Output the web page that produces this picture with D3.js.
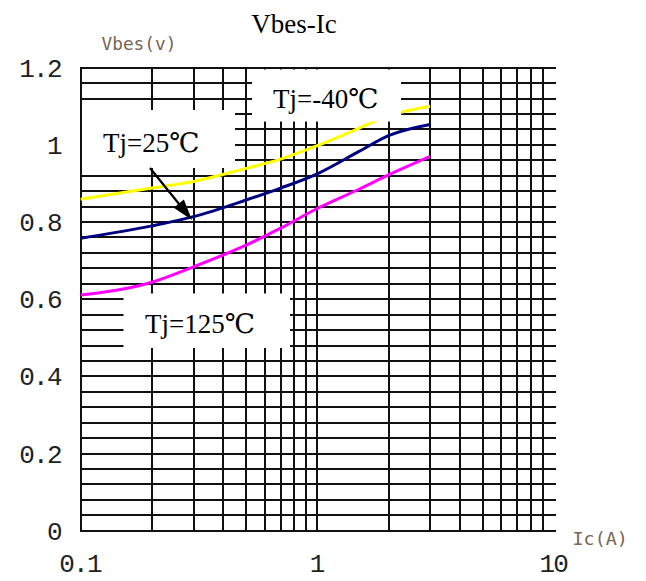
<!DOCTYPE html>
<html>
<head>
<meta charset="utf-8">
<script src="https://cdn.jsdelivr.net/npm/d3@7"></script>
<style>
  html, body { margin: 0; padding: 0; background: #fff; }
  svg { display: block; }
</style>
</head>
<body>
<script>
// ---- data ----
const title = "Vbes-Ic";
const yAxisLabel = "Vbes(v)";
const xAxisLabel = "Ic(A)";
const icValues = [0.1, 0.2, 0.3, 0.5, 0.7, 1, 1.5, 2, 3];
const seriesNames = ["Tj=-40℃", "Tj=25℃", "Tj=125℃"];
const seriesColors = ["#ffff00", "#000080", "#ff00ff"];
const vbesMinus40 = [0.859, 0.888, 0.905, 0.939, 0.963, 0.998, 1.043, 1.075, 1.100];
const vbes25 = [0.758, 0.790, 0.814, 0.857, 0.888, 0.925, 0.983, 1.024, 1.053];
const vbes125 = [0.611, 0.644, 0.684, 0.740, 0.784, 0.835, 0.885, 0.922, 0.970];
const yTickValues = [0, 0.2, 0.4, 0.6, 0.8, 1.0, 1.2];
const yTickLabels = ["0", "0.2", "0.4", "0.6", "0.8", "1", "1.2"];
const xTickValues = [0.1, 1, 10];
const xTickLabels = ["0.1", "1", "10"];
const xGridValues = [0.1,0.2,0.3,0.4,0.5,0.6,0.7,0.8,0.9,1,2,3,4,5,6,7,8,9];
const yGridStep = 0.04;

// ---- layout ----
const W = 646, H = 581;
const mLeft = 80.7, mRight = 553.9, mTop = 67.7, mBottom = 530.7;

const svg = d3.select("body").append("svg").attr("width", W).attr("height", H);
svg.append("rect").attr("width", W).attr("height", H).attr("fill", "#fff");

const x = d3.scaleLog().domain([0.1, 10]).range([mLeft, mRight]);
const y = d3.scaleLinear().domain([0, 1.2]).range([mBottom, mTop]);

const yGridValues = d3.range(0, Math.round(1.2 / yGridStep) + 1).map(i => +(i * yGridStep).toFixed(2));

// grid
const grid = svg.append("g").attr("stroke", "#111").attr("stroke-width", 2).attr("shape-rendering", "crispEdges");
grid.selectAll("line.h").data(yGridValues).join("line")
  .attr("class", "h")
  .attr("x1", mLeft - 1).attr("x2", mRight + 2)
  .attr("y1", d => Math.round(y(d))).attr("y2", d => Math.round(y(d)));
grid.selectAll("line.v").data(xGridValues).join("line")
  .attr("class", "v")
  .attr("x1", d => Math.round(x(d))).attr("x2", d => Math.round(x(d)))
  .attr("y1", Math.round(mTop) - 1).attr("y2", Math.round(mBottom) + 1);

// curves
const series = [vbesMinus40, vbes25, vbes125];
const line = d3.line().x(d => x(d[0])).y(d => y(d[1])).curve(d3.curveMonotoneX);
svg.append("g").selectAll("path").data(series).join("path")
  .attr("d", s => line(icValues.map((v, i) => [v, s[i]])))
  .attr("fill", "none")
  .attr("stroke", (s, i) => seriesColors[i])
  .attr("stroke-width", 3);

// annotation boxes
const serif = "'Liberation Serif', 'DejaVu Serif', 'Times New Roman', serif";
const boxes = [
  { x0: 252, y0: 69.5, x1: 401, y1: 121.5, tx: 273, ty: 108, text: seriesNames[0] },
  { x0: 82, y0: 110, x1: 235, y1: 168, tx: 103, ty: 152, text: seriesNames[1] },
  { x0: 123.5, y0: 293.5, x1: 290, y1: 348, tx: 145, ty: 333, text: seriesNames[2] }
];
const ann = svg.append("g");
ann.selectAll("rect").data(boxes).join("rect")
  .attr("x", d => d.x0).attr("y", d => d.y0)
  .attr("width", d => d.x1 - d.x0).attr("height", d => d.y1 - d.y0)
  .attr("fill", "#fff");
ann.selectAll("text").data(boxes).join("text")
  .attr("x", d => d.tx).attr("y", d => d.ty)
  .attr("font-family", serif).attr("font-size", 27)
  .attr("fill", "#000")
  .text(d => d.text);

// arrow (annotation pointing at the 25°C curve)
const a0 = [150, 168], a1 = [192, 220];
const dx = a1[0] - a0[0], dy = a1[1] - a0[1], len = Math.hypot(dx, dy);
const ux = dx / len, uy = dy / len, headL = 21, headW = 6.5;
const bx = a1[0] - ux * headL, by = a1[1] - uy * headL;
svg.append("line").attr("x1", a0[0]).attr("y1", a0[1]).attr("x2", bx + ux * 2).attr("y2", by + uy * 2)
  .attr("stroke", "#000").attr("stroke-width", 2.2);
svg.append("path")
  .attr("d", `M${a1[0]},${a1[1]} L${bx - uy * headW},${by + ux * headW} L${bx + uy * headW},${by - ux * headW} Z`)
  .attr("fill", "#000");

// axes (labels only)
const mono = "'Liberation Mono', 'DejaVu Sans Mono', monospace";
const yAxis = d3.axisLeft(y).tickValues(yTickValues).tickSize(0).tickPadding(20)
  .tickFormat((d, i) => yTickLabels[i]);
const gy = svg.append("g").attr("transform", `translate(${mLeft},0)`).call(yAxis);
gy.select(".domain").remove();
gy.selectAll("text").attr("font-family", mono).attr("font-size", 26)
  .attr("letter-spacing", -1.8).attr("fill", "#222").attr("dy", "0.33em");

const xAxis = d3.axisBottom(x).tickValues(xTickValues).tickSize(0).tickPadding(23)
  .tickFormat((d, i) => xTickLabels[i]);
const gx = svg.append("g").attr("transform", `translate(0,${mBottom})`).call(xAxis);
gx.select(".domain").remove();
gx.selectAll("text").attr("font-family", mono).attr("font-size", 26)
  .attr("letter-spacing", -1.8).attr("fill", "#222").attr("dx", -1.2);

// axis titles
const smallMono = "'DejaVu Sans Mono', 'Liberation Mono', monospace";
svg.append("text").attr("x", 101.5).attr("y", 50)
  .attr("font-family", smallMono).attr("font-size", 17.8).attr("fill", "#7a6455")
  .text(yAxisLabel);
svg.append("text").attr("x", 572.5).attr("y", 545)
  .attr("font-family", smallMono).attr("font-size", 18.4).attr("fill", "#7a6455")
  .text(xAxisLabel);

// title
svg.append("text").attr("x", 294).attr("y", 33).attr("text-anchor", "middle")
  .attr("font-family", serif).attr("font-size", 27).attr("fill", "#000")
  .text(title);
</script>
</body>
</html>
